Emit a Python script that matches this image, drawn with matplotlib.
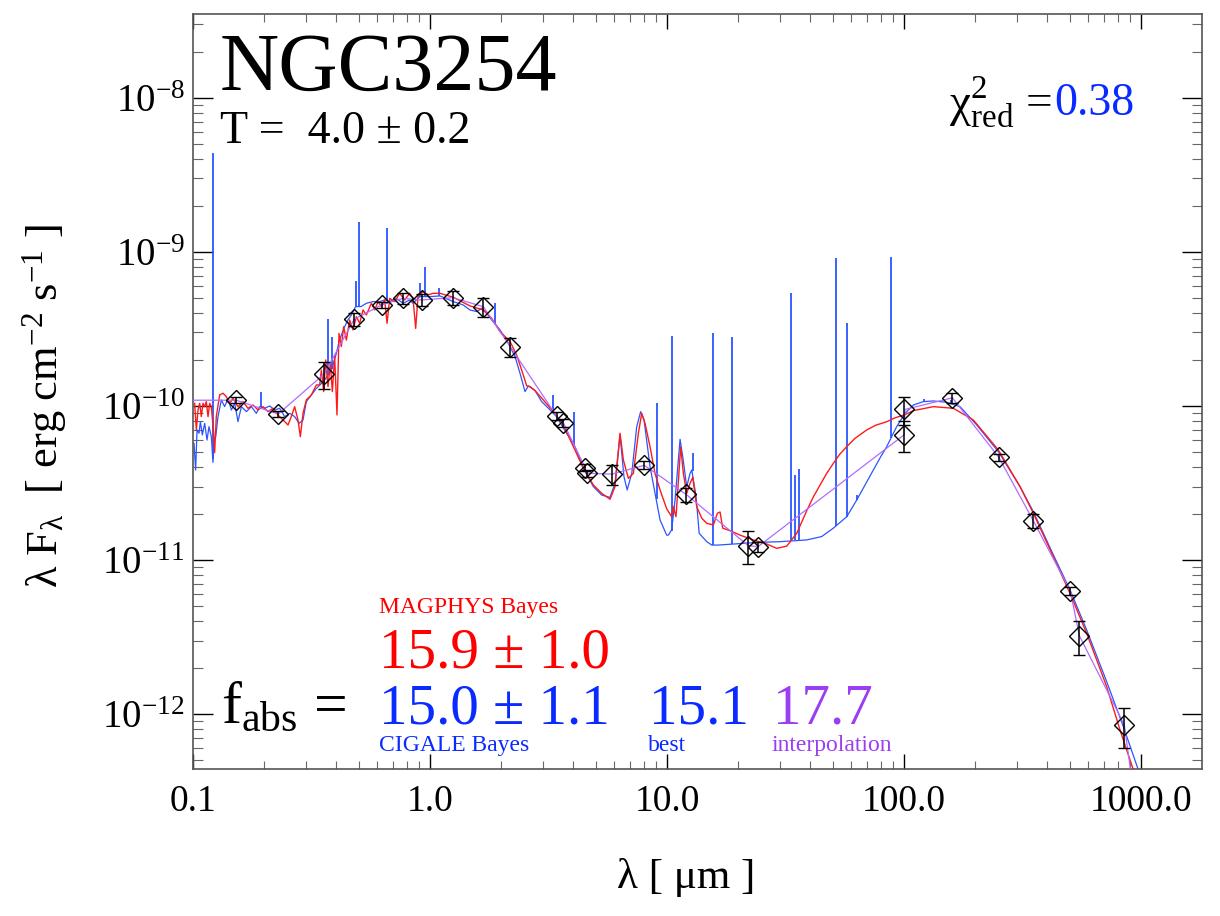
import numpy as np
import matplotlib
matplotlib.use('Agg')
import matplotlib.pyplot as plt
from matplotlib.ticker import FixedLocator, FixedFormatter, LogLocator, NullFormatter, FuncFormatter

plt.rcParams['font.family'] = ['Liberation Serif', 'DejaVu Serif']
plt.rcParams['mathtext.fontset'] = 'custom'
plt.rcParams['mathtext.rm'] = 'Liberation Serif'
plt.rcParams['mathtext.it'] = 'Liberation Serif:italic'
plt.rcParams['mathtext.bf'] = 'Liberation Serif:bold'

# flux values below are in units of 1e-10 erg cm^-2 s^-1, wavelengths in micron
FUNIT = 1e-10

# ---------------- MAGPHYS best-fit spectrum (red) ----------------
lam_magphys = [0.1016, 0.1033, 0.105, 0.1067, 0.1084, 0.1102, 0.112, 0.1138, 0.1157, 0.1176,
               0.1195, 0.1222, 0.1234, 0.1254, 0.1296, 0.1339, 0.1382, 0.1428, 0.1475, 0.1548,
               0.1625, 0.1706, 0.1791, 0.188, 0.1974, 0.2072, 0.2176, 0.2284, 0.2398, 0.2517,
               0.2599, 0.2685, 0.2773, 0.2837, 0.2912, 0.3007, 0.3158, 0.3315, 0.3424, 0.348,
               0.3559, 0.363, 0.3712, 0.3797, 0.3871, 0.396, 0.4051, 0.413, 0.4225, 0.4322,
               0.4436, 0.4581, 0.4732, 0.4888, 0.5049, 0.5215, 0.5387, 0.5655, 0.5842, 0.6034,
               0.6233, 0.6438, 0.6587, 0.676, 0.7096, 0.7447, 0.7818, 0.8207, 0.8478, 0.870,
               0.890, 0.9344, 0.9808, 1.030, 1.102, 1.254, 1.475, 1.679, 1.820, 1.974,
               2.176, 2.321, 2.437, 2.559, 2.642, 2.773, 3.007, 3.315, 3.653, 4.026,
               4.436, 4.888, 5.302, 5.747, 6.034, 6.335, 6.544, 6.869, 7.211, 7.57,
               7.818, 8.075, 8.478, 8.9, 9.344, 9.968, 10.46, 10.63, 10.91, 11.42,
               11.72, 12.11, 12.51, 12.84, 13.34, 14.01, 14.71, 15.69, 16.31, 16.74,
               17.18, 18.45, 20.33, 23.13, 26.34, 29.03, 31.99, 35.26, 38.86, 41.5,
               44.22, 47.2, 50.33, 53.5, 57.3, 62.0, 69.6, 76.0, 84.5, 92.0,
               100.3, 109.5, 133, 161.5, 196.1, 250,
               308.6, 351.3, 426.6, 501.6, 589.8, 716.4, 815.4, 928.2, 1000]
f_magphys = [1.04, 0.70, 0.942, 1.04, 0.853, 1.04, 0.99, 1.067, 0.853, 1.04,
             0.99, 0.665, 0.498, 0.853, 1.18, 1.21, 1.15, 1.04, 1.12, 0.99,
             1.067, 0.966, 1.015, 0.942, 0.99, 0.919, 0.966, 0.874, 0.811, 0.753,
             0.853, 0.99, 0.811, 0.632, 0.896, 1.094, 1.18, 1.37, 1.37, 1.71,
             1.24, 1.99, 1.335, 1.89, 1.24, 2.09, 0.874, 2.96, 2.43, 3.27,
             2.68, 3.62, 3.12, 3.80, 3.44, 4.20, 3.90, 4.64, 4.20, 4.76,
             4.42, 4.88, 3.44, 5.00, 4.76, 5.39, 4.88, 5.39, 5.00, 3.19,
             5.13, 5.53, 5.26, 5.39, 5.39, 5.08, 4.46, 4.20, 3.71, 3.04,
             2.62, 2.14, 1.71, 1.35, 1.335, 1.26, 1.094, 0.919, 0.753, 0.544,
             0.394, 0.307, 0.271, 0.248, 0.2995, 0.665, 0.446, 0.339, 0.365, 0.665,
             0.896, 0.772, 0.544, 0.365, 0.285, 0.215, 0.191, 0.222, 0.191, 0.544,
             0.365, 0.271, 0.315, 0.344, 0.222, 0.187, 0.173, 0.169, 0.201, 0.205,
             0.161, 0.155, 0.145, 0.135, 0.127, 0.119, 0.123, 0.149, 0.209, 0.258,
             0.307, 0.366, 0.424, 0.485, 0.544, 0.615, 0.699, 0.75, 0.79, 0.84,
             0.874, 0.933, 0.99, 0.966, 0.811, 0.518,
             0.2995, 0.201, 0.105, 0.0607, 0.0334, 0.01505, 0.00787, 0.00433, 0.0028]

# ---------------- CIGALE best-fit spectrum (blue) ----------------
lam_cigale = [0.101, 0.1026, 0.104, 0.106, 0.1074, 0.1095, 0.112, 0.1146, 0.1168, 0.1195,
              0.1214, 0.1226, 0.1247, 0.1275, 0.1317, 0.136, 0.1405, 0.1452, 0.15, 0.1548,
              0.16, 0.168, 0.1763, 0.185, 0.1911, 0.2005, 0.2106, 0.2213, 0.2321, 0.2437,
              0.256, 0.2685, 0.2803, 0.2912, 0.3007, 0.3158, 0.3315, 0.348, 0.3594, 0.3837,
              0.4026, 0.4148, 0.4363, 0.4508, 0.4658, 0.4857, 0.5115, 0.5387, 0.5747, 0.6131,
              0.6438, 0.676, 0.7208, 0.7697, 0.8207, 0.8478, 0.9055, 0.9972, 1.102, 1.254,
              1.38, 1.475, 1.574, 1.653, 1.737, 1.820, 1.974, 2.141, 2.285, 2.397,
              2.517, 2.6, 2.773, 2.96, 3.16, 3.42, 3.77, 4.09, 4.436, 4.888,
              5.302, 5.747, 6.034, 6.335, 6.58, 6.79, 7.10, 7.45, 7.74, 8.0,
              8.478, 9.344, 9.968, 10.13, 10.46, 10.81, 11.16, 11.35, 11.65, 12.11,
              12.51, 12.72, 13.26, 13.67, 14.71, 15.45, 16.43, 19.05, 23.9, 29.99,
              38.86, 44.95, 50.33, 57.3, 63.15, 74.25, 79.2, 84.5, 90.2, 93.1,
              101, 109.5, 120.6, 133, 151.4, 172.3, 202.6, 250, 308.6, 351.3,
              426.6, 501.6, 589.8, 716.4, 842.3, 974.3, 1050]
f_cigale = [0.572, 0.384, 0.699, 0.665, 0.791, 0.648, 0.772, 0.601, 0.734, 0.632,
            0.43, 0.60, 0.632, 0.853, 1.094, 0.99, 1.12, 0.942, 1.04, 0.791,
            0.99, 0.919, 0.99, 0.896, 0.99, 0.966, 1.0, 0.942, 0.966, 0.853,
            0.896, 0.853, 0.772, 0.811, 1.067, 1.18, 1.30, 1.40, 1.475, 1.71,
            2.20, 2.68, 3.27, 3.62, 3.90, 4.42, 4.42, 4.64, 4.76, 4.76,
            4.88, 4.76, 5.0, 4.64, 4.88, 4.64, 5.13, 5.13, 5.18, 4.76,
            4.53, 4.20, 4.10, 4.31, 4.0, 3.62, 3.12, 2.55, 2.09, 1.63,
            1.24, 1.35, 1.26, 1.067, 0.966, 0.853, 0.665, 0.544, 0.394, 0.2995,
            0.264, 0.255, 0.315, 0.65, 0.348, 0.285, 0.365, 0.734, 0.919, 0.811,
            0.404, 0.182, 0.145, 0.145, 0.157, 0.245, 0.446, 0.608, 0.469, 0.2995,
            0.365, 0.384, 0.258, 0.149, 0.1315, 0.125, 0.125, 0.127, 0.13, 0.1315,
            0.135, 0.142, 0.161, 0.191, 0.245, 0.384, 0.46, 0.544, 0.665, 0.734,
            0.896, 1.015, 1.067, 1.078, 1.056, 0.99, 0.753, 0.505, 0.2995, 0.206,
            0.108, 0.0639, 0.0351, 0.0162, 0.00827, 0.00433, 0.003]

# CIGALE emission lines: wavelength, continuum level, peak level
lam_lines = [0.1216, 0.193, 0.3727, 0.3869, 0.4861, 0.5007, 0.6563, 0.907, 0.953, 1.094,
             1.875, 3.29, 4.05, 9.05, 10.51, 12.81, 15.56, 18.71, 33.5, 34.8,
             36.0, 51.8, 57.3, 63.2, 88.4, 122, 158]
f_line_base = [0.45, 0.99, 1.6, 1.75, 4.4, 4.4, 4.8, 5.1, 5.1, 5.2,
               3.4, 0.93, 0.56, 0.25, 0.155, 0.38, 0.125, 0.127, 0.134, 0.134,
               0.134, 0.165, 0.191, 0.245, 0.62, 1.067, 1.05]
f_line_peak = [43.9, 1.24, 3.66, 2.8, 6.5, 15.7, 14.3, 6.29, 8.03, 5.81,
               4.64, 1.18, 0.919, 1.045, 2.85, 0.493, 2.96, 2.82, 5.44, 0.356,
               0.388, 9.1, 3.48, 0.264, 9.23, 1.105, 1.09]

# ---------------- interpolation (purple) ----------------
lam_interp = [0.1, 0.152, 0.229, 0.357, 0.479, 0.625, 0.767, 0.923, 1.247, 1.68,
              2.18, 3.42, 3.65, 4.51, 4.6, 5.84, 8.02, 12.03, 22.0, 24.2,
              100, 101, 160, 251, 351, 503, 549, 850, 920]
f_interp = [1.09, 1.09, 0.887, 1.61, 3.66, 4.53, 5.0, 4.88, 5.05, 4.41,
            2.43, 0.86, 0.78, 0.398, 0.366, 0.361, 0.412, 0.267, 0.124, 0.122,
            0.649, 0.95, 1.13, 0.465, 0.180, 0.063, 0.0323, 0.0085, 0.0035]

# ---------------- observed photometry ----------------
lam_obs = [0.152, 0.229, 0.357, 0.479, 0.625, 0.767, 0.923, 1.247, 1.68, 2.18,
           3.42, 3.65, 4.51, 4.6, 5.84, 8.02, 12.03, 22.0, 24.2, 100,
           100, 160, 251, 351, 503, 549, 850]
f_obs = [1.09, 0.887, 1.61, 3.66, 4.53, 5.0, 4.88, 5.05, 4.41, 2.43,
         0.86, 0.78, 0.398, 0.366, 0.361, 0.412, 0.267, 0.124, 0.122, 0.95,
         0.649, 1.13, 0.465, 0.180, 0.063, 0.0323, 0.0085]
ferr_obs = [0.05, 0.04, 0.33, 0.34, 0.2, 0.39, 0.45, 0.53, 0.64, 0.35,
            0.05, 0.045, 0.02, 0.02, 0.052, 0.025, 0.028, 0.03, 0.009, 0.20,
            0.15, 0.08, 0.025, 0.019, 0.0035, 0.008, 0.0025]

x_ticks = [0.1, 1.0, 10.0, 100.0, 1000.0]
x_ticklabels = ['0.1', '1.0', '10.0', '100.0', '1000.0']
y_ticks = [1e-12, 1e-11, 1e-10, 1e-9, 1e-8]

RED = '#ff1a1a'
BLUE = '#2a55ff'
PURPLE = '#b06cff'
TXT_BLUE = '#0a2bff'
TXT_PURPLE = '#9b3df2'

W, H = 1220, 916
fig = plt.figure(figsize=(W / 100, H / 100), dpi=100)
ax = fig.add_axes([193 / W, 1 - 769 / H, (1202 - 193) / W, (769 - 14) / H])
ax.set_xscale('log')
ax.set_yscale('log')

ax.plot(lam_cigale, np.array(f_cigale) * FUNIT, color=BLUE, lw=0.9, zorder=2)
ax.vlines(lam_lines, np.array(f_line_base) * FUNIT, np.array(f_line_peak) * FUNIT,
          color=BLUE, lw=1.3, zorder=2)
ax.plot(lam_magphys, np.array(f_magphys) * FUNIT, color=RED, lw=1.0, zorder=3)
ax.plot(lam_interp, np.array(f_interp) * FUNIT, color=PURPLE, lw=0.9, zorder=4)
ax.errorbar(lam_obs, np.array(f_obs) * FUNIT, yerr=np.array(ferr_obs) * FUNIT,
            fmt='D', ms=10.5, mfc='none', mec='black', mew=1.0, ecolor='black',
            elinewidth=1.1, capsize=4, capthick=1.1, zorder=5)

ax.set_xlim(0.1, 1808)
ax.set_ylim(10 ** -12.357, 10 ** -7.455)

ax.xaxis.set_major_locator(FixedLocator(x_ticks))
ax.xaxis.set_major_formatter(FixedFormatter(x_ticklabels))
ax.xaxis.set_minor_locator(LogLocator(base=10, subs=np.arange(2, 10), numticks=30))
ax.xaxis.set_minor_formatter(NullFormatter())
ax.yaxis.set_major_locator(FixedLocator(y_ticks))
ax.yaxis.set_major_formatter(FuncFormatter(lambda v, p: r'$10^{%d}$' % int(round(np.log10(v)))))
ax.yaxis.set_minor_locator(LogLocator(base=10, subs=np.arange(2, 10), numticks=30))
ax.yaxis.set_minor_formatter(NullFormatter())

ax.tick_params(which='both', direction='in', top=True, right=True)
ax.tick_params(axis='x', which='major', length=10.8, width=1.0, labelsize=27, pad=11)
ax.tick_params(axis='x', which='minor', length=5.8, width=0.8, color='#666666')
ax.tick_params(axis='y', which='major', length=14.4, width=1.0, labelsize=28, pad=6)
ax.tick_params(axis='y', which='minor', length=7.2, width=0.8, color='#666666')
for s in ax.spines.values():
    s.set_color('#555555')
    s.set_linewidth(1.2)


def fx(x):
    return x / W


def fy(y):
    return 1 - y / H


fig.text(fx(220), fy(90), 'NGC3254', fontsize=59, va='baseline', ha='left')
fig.text(fx(220), fy(143), 'T =  4.0 \u00b1 0.2', fontsize=33, va='baseline', ha='left')
fig.text(fx(1052), fy(117), r'$\mathrm{\chi}^{2}_{\mathrm{red}}$ =', fontsize=34,
         va='baseline', ha='right')
fig.text(fx(1054), fy(115), '0.38', fontsize=33, va='baseline', ha='left', color=TXT_BLUE)

fig.text(fx(221), fy(723), r'$\mathrm{f}_{\mathrm{abs}}$ =', fontsize=43, va='baseline', ha='left')
fig.text(fx(379), fy(613), 'MAGPHYS Bayes', fontsize=17, va='baseline', ha='left', color='red')
fig.text(fx(379), fy(668), '15.9 \u00b1 1.0', fontsize=41, va='baseline', ha='left', color='red')
fig.text(fx(379), fy(723), '15.0 \u00b1 1.1', fontsize=41, va='baseline', ha='left', color=TXT_BLUE)
fig.text(fx(649), fy(723), '15.1', fontsize=41, va='baseline', ha='left', color=TXT_BLUE)
fig.text(fx(773), fy(723), '17.7', fontsize=41, va='baseline', ha='left', color=TXT_PURPLE)
fig.text(fx(379), fy(751), 'CIGALE Bayes', fontsize=17, va='baseline', ha='left', color=TXT_BLUE)
fig.text(fx(648), fy(751), 'best', fontsize=17, va='baseline', ha='left', color=TXT_BLUE)
fig.text(fx(772), fy(751), 'interpolation', fontsize=17, va='baseline', ha='left', color=TXT_PURPLE)

fig.text(fx(45), fy(406), r'$\mathrm{\lambda\ F_{\lambda}\ \ [\ erg\ cm^{-2}\ s^{-1}\ ]}$',
         fontsize=32, rotation=90, ha='center', va='center')
fig.text(fx(686), fy(888), '\u03bb [ \u03bcm ]', fontsize=31, ha='center', va='baseline')

fig.savefig('out.png', dpi=100)
